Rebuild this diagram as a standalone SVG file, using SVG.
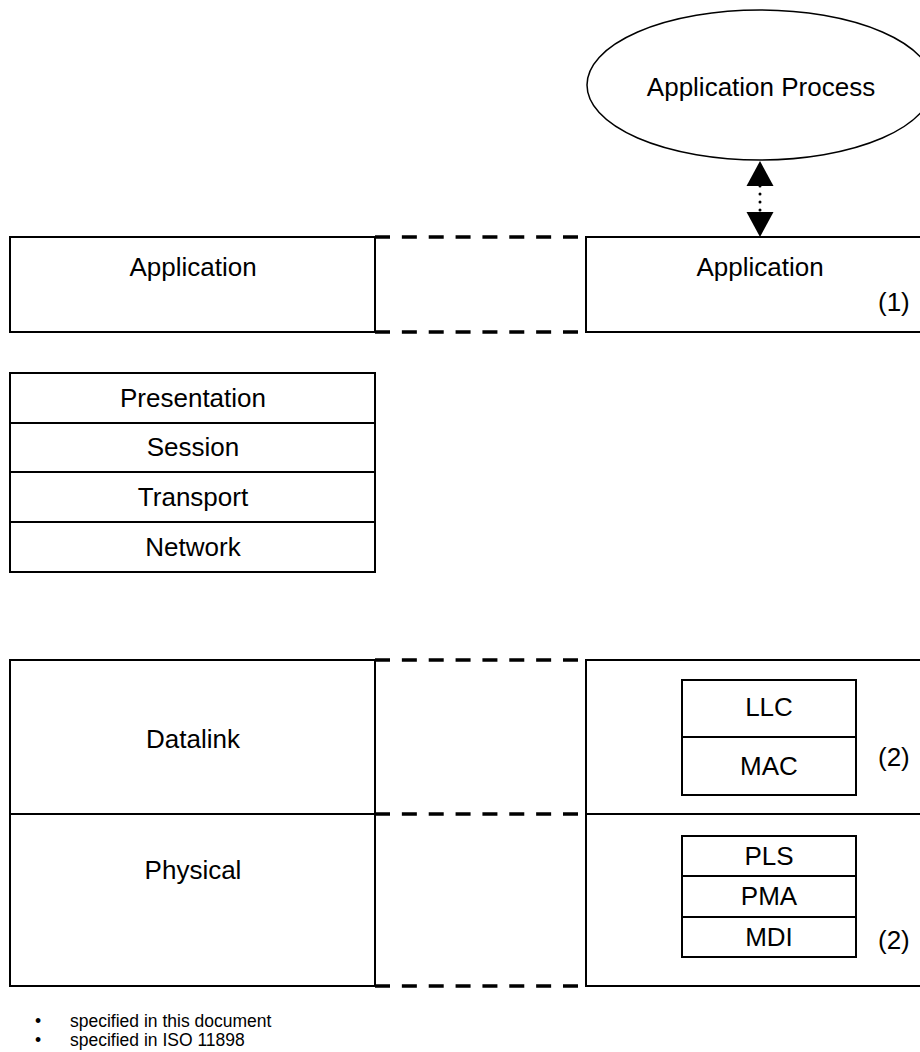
<svg xmlns="http://www.w3.org/2000/svg" width="920" height="1052" viewBox="0 0 920 1052">
<style>
  .box { fill: #ffffff; stroke: #000000; stroke-width: 2; }
  .lbl { font-family: "Liberation Sans", Arial, sans-serif; font-size: 26px; fill: #000000; text-anchor: middle; }
  .note { font-family: "Liberation Sans", Arial, sans-serif; font-size: 26px; fill: #000000; text-anchor: start; }
  .foot { font-family: "Liberation Sans", Arial, sans-serif; font-size: 17.5px; fill: #000000; }
  .dash { fill: none; stroke: #000000; stroke-width: 3.5; stroke-dasharray: 15 11.857; }
  .dots { fill: none; stroke: #000000; stroke-width: 3; stroke-linecap: round; stroke-dasharray: 0 8; }
</style>
<defs>
  <marker id="tri" markerUnits="userSpaceOnUse" markerWidth="26" markerHeight="28" refX="0" refY="14" orient="auto-start-reverse" viewBox="0 0 26 28">
    <path d="M0,0.5 L25,14 L0,27.5 Z" fill="#000000"/>
  </marker>
</defs>
<rect x="0" y="0" width="920" height="1052" fill="#ffffff"/>

<g id="application-process">
  <ellipse cx="760" cy="85" rx="173" ry="75" fill="#ffffff" stroke="#000000" stroke-width="1.5"/>
  <text class="lbl" x="761" y="96">Application Process</text>
</g>

<g id="application-left">
  <rect class="box" x="10" y="237" width="365" height="95"/>
  <text class="lbl" x="193" y="276">Application</text>
</g>

<g id="application-right">
  <rect class="box" x="586" y="237" width="350" height="95"/>
  <text class="lbl" x="760" y="276">Application</text>
  <text class="note" x="878" y="311">(1)</text>
</g>

<g id="presentation">
  <rect class="box" x="10" y="373" width="365" height="50"/>
  <text class="lbl" x="193" y="407">Presentation</text>
</g>
<g id="session">
  <rect class="box" x="10" y="423" width="365" height="49"/>
  <text class="lbl" x="193" y="456">Session</text>
</g>
<g id="transport">
  <rect class="box" x="10" y="472" width="365" height="50"/>
  <text class="lbl" x="193" y="506">Transport</text>
</g>
<g id="network">
  <rect class="box" x="10" y="522" width="365" height="50"/>
  <text class="lbl" x="193" y="556">Network</text>
</g>

<g id="datalink">
  <rect class="box" x="10" y="660" width="365" height="154"/>
  <text class="lbl" x="193" y="748">Datalink</text>
</g>
<g id="physical">
  <rect class="box" x="10" y="814" width="365" height="172"/>
  <text class="lbl" x="193" y="879">Physical</text>
</g>

<g id="datalink-right">
  <rect class="box" x="586" y="660" width="350" height="154"/>
  <rect class="box" x="682" y="680" width="174" height="57"/>
  <text class="lbl" x="769" y="716">LLC</text>
  <rect class="box" x="682" y="737" width="174" height="58"/>
  <text class="lbl" x="769" y="775">MAC</text>
  <text class="note" x="878" y="766">(2)</text>
</g>

<g id="physical-right">
  <rect class="box" x="586" y="814" width="350" height="172"/>
  <rect class="box" x="682" y="836" width="174" height="40"/>
  <text class="lbl" x="769" y="865">PLS</text>
  <rect class="box" x="682" y="876" width="174" height="41"/>
  <text class="lbl" x="769" y="905">PMA</text>
  <rect class="box" x="682" y="917" width="174" height="40"/>
  <text class="lbl" x="769" y="946">MDI</text>
  <text class="note" x="878" y="949">(2)</text>
</g>

<g id="connectors">
  <line class="dots" x1="760" y1="186" x2="760" y2="212" marker-start="url(#tri)" marker-end="url(#tri)"/>
  <line class="dash" x1="375" y1="237" x2="578" y2="237"/>
  <line class="dash" x1="375" y1="332" x2="578" y2="332"/>
  <line class="dash" x1="375" y1="660" x2="578" y2="660"/>
  <line class="dash" x1="375" y1="814" x2="578" y2="814"/>
  <line class="dash" x1="375" y1="986" x2="578" y2="986"/>
</g>

<g id="legend">
  <text class="foot" y="1027"><tspan x="35">•</tspan><tspan x="70">specified in this document</tspan></text>
  <text class="foot" y="1046"><tspan x="35">•</tspan><tspan x="70">specified in ISO 11898</tspan></text>
</g>
</svg>
